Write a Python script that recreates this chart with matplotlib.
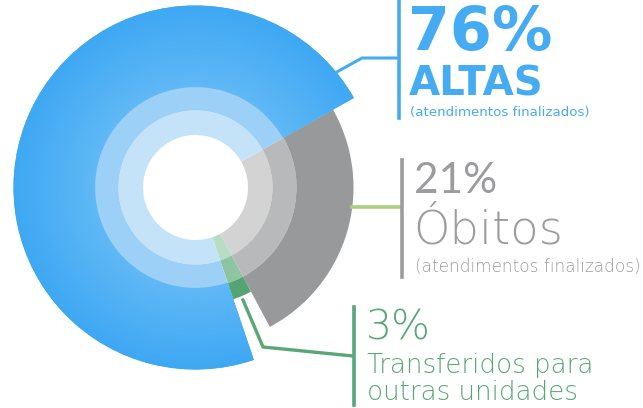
import numpy as np
import matplotlib.pyplot as plt
from matplotlib.patches import Wedge
from matplotlib.colors import to_rgb

# slices in clockwise order starting at the blue/gray boundary
labels = ["Óbitos", "Transferidos", "Altas"]
pct_text = ["21%", "3%", "76%"]
# angular shares as they are drawn in the graphic (it is not drawn to scale)
shares = [25.4, 2.6, 72.0]
outer_r = [158, 118, 182]
outer_col = ["#98999b", "#55a574", "#42aaf3"]
mid_col = ["#b8b9bb", "#8ec5a1", "#9dd0f6"]
inner_col = ["#d3d3d3", "#b9dcc5", "#c4e3f9"]

W, H = 643, 408
C = (195.5, H - 187.5)

fig = plt.figure(figsize=(W / 100, H / 100), dpi=100)
ax = fig.add_axes([0, 0, 1, 1])

common = dict(startangle=29.5, counterclock=False, center=C, frame=False)
ax.pie(shares, colors=inner_col, radius=77, wedgeprops=dict(width=77 - 52.5, linewidth=0), **common)
ax.pie(shares, colors=mid_col, radius=101, wedgeprops=dict(width=24, linewidth=0), **common)
outer, _ = ax.pie(shares, colors=outer_col, radius=182, wedgeprops=dict(width=81, linewidth=0), **common)
for w, r in zip(outer, outer_r):
    w.set_radius(r)
    w.set_width(r - 101)

# soft radial gradient on the big blue slice
blue = outer[2]
c_in, c_out = np.array(to_rgb("#60b8f5")), np.array(to_rgb("#3fa8f3"))
n = 30
edges = np.linspace(101, 182, n + 1)
for i in range(n):
    t = i / (n - 1)
    col = c_in * (1 - t) + c_out * t
    ax.add_patch(Wedge(C, edges[i + 1], blue.theta1, blue.theta2, width=edges[i + 1] - edges[i] + 0.6,
                       color=col, lw=0))

ax.set_xlim(0, W)
ax.set_ylim(0, H)
ax.set_aspect("auto")
ax.axis("off")

def Y(y):
    return H - y

# leader lines and bars
bcol, gcol, tcol = "#45acf3", "#9c9c9e", "#58a777"
ax.plot([335, 362, 398], [Y(73), Y(58), Y(58)], color=bcol, lw=2.2, solid_capstyle="butt")
ax.plot([398.5, 398.5], [Y(1), Y(118)], color=bcol, lw=2.6)
ax.plot([352, 400], [Y(207), Y(207)], color="#a9d17b", lw=2.6)
ax.plot([401.5, 401.5], [Y(160), Y(277)], color=gcol, lw=2.6)
ax.plot([243, 263, 353], [Y(300), Y(347), Y(356)], color=tcol, lw=2.4)
ax.plot([354, 354], [Y(307), Y(405)], color=tcol, lw=2.6)

dv = "DejaVu Sans"
lato = ["Lato", "DejaVu Sans"]
ax.text(408, Y(50), pct_text[2], color=bcol, fontsize=43.5, fontweight="bold", family=dv, va="baseline")
ax.text(409, Y(95), labels[2].upper(), color=bcol, fontsize=29, fontweight="bold", family=dv, va="baseline")
ax.text(410, Y(116), "(atendimentos finalizados)", color=bcol, fontsize=9.6, fontweight="normal", family=dv, va="baseline")

ax.text(414, Y(193), pct_text[0], color=gcol, fontsize=30.5, fontweight="normal", family=lato, va="baseline")
ax.text(413, Y(243), labels[0], color=gcol, fontsize=33.5, fontweight="light", family=dv, va="baseline")
ax.text(415, Y(272), "(atendimentos finalizados)", color=gcol, fontsize=12.2, fontweight="light", family=dv, va="baseline")

ax.text(366, Y(340), pct_text[1], color=tcol, fontsize=29.5, fontweight="light", family=dv, va="baseline")
ax.text(367, Y(373), "Transferidos para", color=tcol, fontsize=18.8, fontweight="light", family=dv, va="baseline")
ax.text(367, Y(400), "outras unidades", color=tcol, fontsize=18.8, fontweight="light", family=dv, va="baseline")

fig.savefig("out.png", dpi=100)
